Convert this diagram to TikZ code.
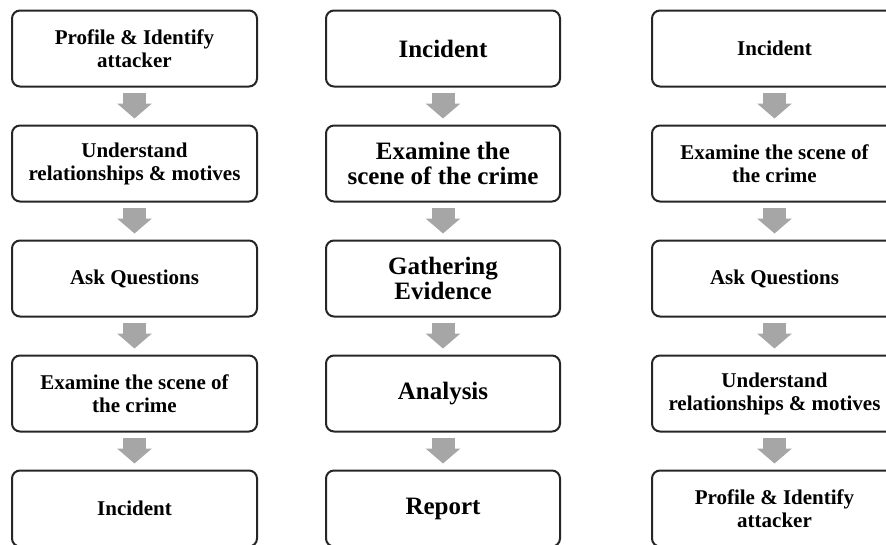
\documentclass[tikz,border=0pt]{standalone}
\usepackage{fontspec}
\setmainfont{Liberation Serif}
\usetikzlibrary{arrows.meta}
\pgfdeclarelayer{edgelayer}
\pgfdeclarelayer{nodelayer}
\pgfsetlayers{edgelayer,nodelayer,main}
\definecolor{arrowgray}{HTML}{A6A6A6}
\definecolor{boxline}{HTML}{262626}
\tikzstyle{stepbox}=[rectangle,rounded corners=8pt,fill=white,draw=boxline,line width=2pt,minimum height=76pt,align=center,inner sep=2pt,font=\bfseries\fontsize{21}{23}\selectfont]
\tikzstyle{wide_box}=[stepbox,minimum width=245pt]
\tikzstyle{mid_box}=[stepbox,minimum width=234pt,font=\bfseries\fontsize{25}{25}\selectfont]
\tikzstyle{flow}=[-{Triangle[width=34pt,length=15pt]},draw=arrowgray,line width=23pt,shorten <=5pt,shorten >=6pt]

\begin{document}
\begin{tikzpicture}[x=1pt,y=-1pt]
	\useasboundingbox (0, 0) rectangle (886, 544);
	\begin{pgfonlayer}{nodelayer}
		% left column
		\node [style={wide_box}] (l1) at (134.5, 48.5) {Profile \& Identify\\attacker};
		\node [style={wide_box}] (l2) at (134.5, 163.5) {Understand\\relationships \& motives};
		\node [style={wide_box}] (l3) at (134.5, 278.5) {Ask Questions};
		\node [style={wide_box}] (l4) at (134.5, 393.5) {Examine the scene of\\the crime};
		\node [style={wide_box}] (l5) at (134.5, 508.5) {Incident};
		% middle column
		\node [style={mid_box}] (m1) at (443, 48.5) {Incident};
		\node [style={mid_box}] (m2) at (443, 163.5) {Examine the\\scene of the crime};
		\node [style={mid_box}] (m3) at (443, 278.5) {Gathering\\Evidence};
		\node [style={mid_box}] (m4) at (443, 393.5) {Analysis};
		\node [style={mid_box}] (m5) at (443, 508.5) {Report};
		% right column
		\node [style={wide_box}] (r1) at (774.5, 48.5) {Incident};
		\node [style={wide_box}] (r2) at (774.5, 163.5) {Examine the scene of\\the crime};
		\node [style={wide_box}] (r3) at (774.5, 278.5) {Ask Questions};
		\node [style={wide_box}] (r4) at (774.5, 393.5) {Understand\\relationships \& motives};
		\node [style={wide_box}] (r5) at (774.5, 508.5) {Profile \& Identify\\attacker};
	\end{pgfonlayer}
	\begin{pgfonlayer}{edgelayer}
		\foreach \col in {l, m, r} {
			\foreach \a/\b in {1/2, 2/3, 3/4, 4/5} {
				\draw [style=flow] (\col\a.south) -- (\col\b.north);
			}
		}
	\end{pgfonlayer}
\end{tikzpicture}
\end{document}
